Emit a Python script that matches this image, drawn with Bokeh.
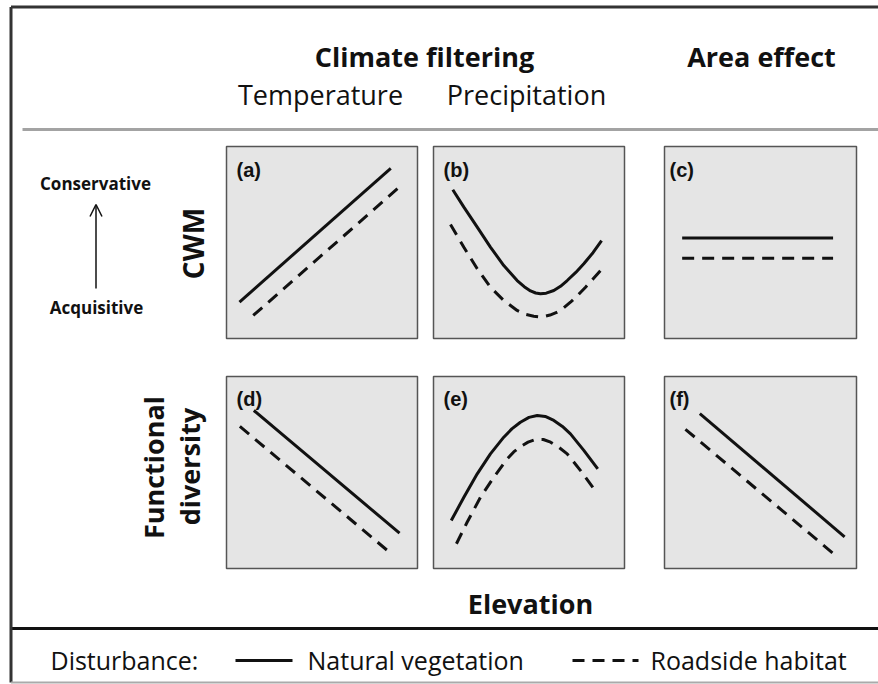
import math
from bokeh.plotting import figure
from bokeh.models import Range1d, Arrow, OpenHead
from bokeh.core.properties import value
from bokeh.embed import file_html
from bokeh.resources import INLINE

# ---------------- data ----------------
panel_labels = ["(a)", "(b)", "(c)", "(d)", "(e)", "(f)"]
column_titles = ["Climate filtering", "Area effect"]
driver_labels = ["Temperature", "Precipitation"]
cwm_label = "CWM"
fd_labels = ["Functional", "diversity"]
axis_ends = ["Conservative", "Acquisitive"]
x_title = "Elevation"
legend_title = "Disturbance:"
series_names = ["Natural vegetation", "Roadside habitat"]

# panel (a): temperature, CWM
a_nat_x = [0.068, 0.860]
a_nat_y = [0.190, 0.886]
a_road_x = [0.140, 0.895]
a_road_y = [0.120, 0.780]
# panel (b): precipitation, CWM
b_nat_x = [0.101, 0.159, 0.229, 0.298, 0.368, 0.438, 0.475, 0.508, 0.535, 0.560, 0.590, 0.630,
           0.665, 0.700, 0.745, 0.787, 0.835, 0.880]
b_nat_y = [0.775, 0.684, 0.580, 0.476, 0.380, 0.302, 0.270, 0.248, 0.237, 0.233, 0.236, 0.250,
           0.272, 0.302, 0.344, 0.389, 0.447, 0.510]
b_road_x = [0.089, 0.159, 0.229, 0.298, 0.368, 0.438, 0.480, 0.525, 0.550, 0.577, 0.610, 0.648,
            0.680, 0.717, 0.755, 0.796, 0.835, 0.874]
b_road_y = [0.594, 0.475, 0.363, 0.267, 0.198, 0.146, 0.126, 0.116, 0.113, 0.114, 0.122, 0.137,
            0.158, 0.189, 0.225, 0.267, 0.310, 0.354]
# panel (c): area effect, CWM
c_nat_x = [0.092, 0.878]
c_nat_y = [0.524, 0.524]
c_road_x = [0.092, 0.878]
c_road_y = [0.418, 0.418]
# panel (d): temperature, functional diversity
d_nat_x = [0.143, 0.906]
d_nat_y = [0.823, 0.184]
d_road_x = [0.070, 0.859]
d_road_y = [0.740, 0.080]
# panel (e): precipitation, functional diversity
e_nat_x = [0.093, 0.159, 0.229, 0.298, 0.368, 0.410, 0.455, 0.500, 0.543, 0.585, 0.630, 0.675,
           0.717, 0.787, 0.860]
e_nat_y = [0.250, 0.371, 0.493, 0.597, 0.684, 0.727, 0.762, 0.787, 0.797, 0.792, 0.771, 0.740,
           0.701, 0.615, 0.519]
e_road_x = [0.120, 0.176, 0.246, 0.316, 0.386, 0.420, 0.455, 0.495, 0.534, 0.575, 0.613, 0.655,
            0.700, 0.770, 0.857]
e_road_y = [0.129, 0.241, 0.371, 0.476, 0.571, 0.607, 0.635, 0.658, 0.672, 0.672, 0.658, 0.632,
            0.597, 0.510, 0.392]
# panel (f): area effect, functional diversity
f_nat_x = [0.184, 0.938]
f_nat_y = [0.807, 0.165]
f_road_x = [0.109, 0.891]
f_road_y = [0.725, 0.068]

panels = [
    (a_nat_x, a_nat_y, a_road_x, a_road_y),
    (b_nat_x, b_nat_y, b_road_x, b_road_y),
    (c_nat_x, c_nat_y, c_road_x, c_road_y),
    (d_nat_x, d_nat_y, d_road_x, d_road_y),
    (e_nat_x, e_nat_y, e_road_x, e_road_y),
    (f_nat_x, f_nat_y, f_road_x, f_road_y),
]

# ---------------- layout ----------------
W, H = 878, 684
OX, OY = 0, 0
FONT = value("Open Sans")
INK = "#111111"

p = figure(width=W, height=H, x_range=Range1d(OX, OX + W), y_range=Range1d(OY + H, OY),
           output_backend="svg", toolbar_location=None, min_border=0)
p.axis.visible = False
p.grid.visible = False
p.outline_line_color = None
p.background_fill_color = "white"
p.border_fill_color = "white"

col_lr = [(226, 417), (433, 624), (664, 856)]
row_tb = [(146, 338), (376, 568)]
label_x = [236, 443, 669]
label_y = [158, 387]

for i, (nx, ny, rx, ry) in enumerate(panels):
    r, c = divmod(i, 3)
    l, rr = col_lr[c]
    t, b = row_tb[r]
    xs, ys = rr - l, b - t
    name = f"p{i}"
    p.extra_x_ranges[name] = Range1d((OX - l) / xs, (OX + W - l) / xs)
    p.extra_y_ranges[name] = Range1d((b - (OY + H)) / ys, (b - OY) / ys)
    p.quad(left=[0], right=[1], bottom=[0], top=[1], x_range_name=name, y_range_name=name,
           fill_color="#e5e5e5", line_color="#555555", line_width=1.5)
    p.line(nx, ny, x_range_name=name, y_range_name=name, line_color=INK, line_width=3,
           line_join="round")
    p.line(rx, ry, x_range_name=name, y_range_name=name, line_color=INK, line_width=3,
           line_dash="12 8", line_join="round")
    p.text(x=[label_x[c]], y=[label_y[r]], text=[panel_labels[i]],
           text_font=value("Liberation Sans"), text_font_style="bold", text_font_size="20px",
           text_color=INK, text_align="left", text_baseline="top")

# header
p.text(x=[424, 761], y=[56, 56], text=column_titles, text_font=FONT, text_font_style="bold",
       text_font_size="27px", text_color=INK, text_align="center", text_baseline="middle")
p.text(x=[320, 526], y=[94, 94], text=driver_labels, text_font=FONT,
       text_font_size="27px", text_color=INK, text_align="center", text_baseline="middle")
p.line([22, OX + W], [129, 129], line_color="#a3a3a3", line_width=3)

# left annotations
p.text(x=[95, 96], y=[183, 307], text=axis_ends, text_font=FONT, text_font_style="bold",
       text_font_size="17px", text_color=INK, text_align="center", text_baseline="middle")
p.add_layout(Arrow(end=OpenHead(size=12, line_width=1.5, line_color=INK),
                   x_start=95.5, y_start=288, x_end=95.5, y_end=204,
                   line_width=1.5, line_color=INK))
p.text(x=[192], y=[243], text=[cwm_label], text_font=FONT, text_font_style="bold",
       text_font_size="28px", text_color=INK, text_align="center", text_baseline="alphabetic",
       angle=math.pi / 2)
p.text(x=[153, 189], y=[467, 466], text=fd_labels, text_font=FONT, text_font_style="bold",
       text_font_size="27px", text_color=INK, text_align="center", text_baseline="alphabetic",
       angle=math.pi / 2)

# x title
p.text(x=[530], y=[603], text=[x_title], text_font=FONT, text_font_style="bold",
       text_font_size="27px", text_color=INK, text_align="center", text_baseline="middle")

# separator + legend
p.line([11, OX + W], [628, 628], line_color=INK, line_width=3)
p.text(x=[50], y=[659], text=[legend_title], text_font=FONT, text_font_size="25px",
       text_color=INK, text_align="left", text_baseline="middle")
p.line([235, 292], [660, 660], line_color=INK, line_width=3)
p.line([572, 638], [660, 660], line_color=INK, line_width=3, line_dash="12 8")
p.text(x=[307, 650], y=[659, 659], text=series_names, text_font=FONT, text_font_size="25px",
       text_color=INK, text_align="left", text_baseline="middle")

# outer frame
p.line([10.5, 10.5], [682, 6.5], line_color="#333333", line_width=3)
p.line([10.5, OX + W], [6.5, 6.5], line_color="#333333", line_width=3)
p.line([10.5, OX + W], [682, 682], line_color="#aaaaaa", line_width=2)

open("out.html", "w").write(file_html(p, INLINE))
